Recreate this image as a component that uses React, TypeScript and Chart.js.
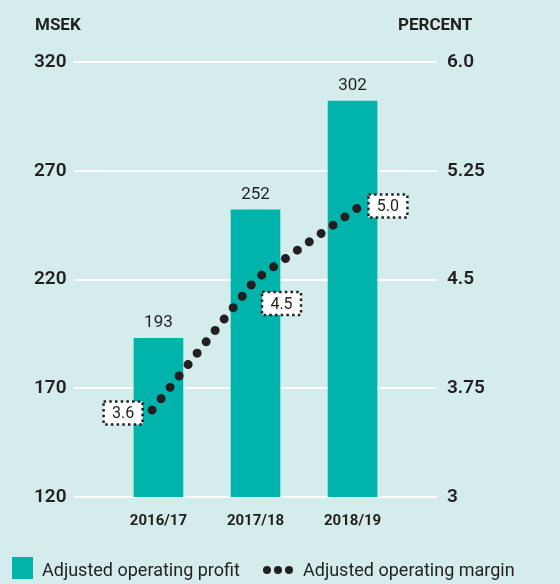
import React, { useEffect, useRef } from "react";
import { Chart, registerables } from "chart.js";

Chart.register(...registerables);

const categories = ["2016/17", "2017/18", "2018/19"];
const profitValues = [193, 252, 302];
const marginValues = [3.6, 4.5, 5.0];
const marginLabels = ["3.6", "4.5", "5.0"];
const leftTicks = [120, 170, 220, 270, 320];
const rightTicks = [3, 3.75, 4.5, 5.25, 6.0];
const rightTickLabels = ["3", "3.75", "4.5", "5.25", "6.0"];

const BG = "#d4ecec";
const BAR = "#00b4ac";
const INK = "#231f20";
const FONT = "Roboto, 'Noto Sans', sans-serif";

// offsets of the dotted value boxes relative to their points
const boxOffsets = [
  { dx: -29, dy: 3 },
  { dx: 26, dy: 24 },
  { dx: 29, dy: -1 },
];

const labelPlugin = {
  id: "customLabels",
  afterDatasetsDraw(chart: any) {
    const ctx = chart.ctx;
    ctx.save();
    const barMeta = chart.getDatasetMeta(0);
    ctx.fillStyle = INK;
    ctx.font = `400 17px ${FONT}`;
    ctx.textAlign = "center";
    ctx.textBaseline = "middle";
    barMeta.data.forEach((el: any, i: number) => {
      ctx.fillText(String(profitValues[i]), el.x, el.y - 15);
    });
    const lineMeta = chart.getDatasetMeta(1);
    lineMeta.data.forEach((pt: any, i: number) => {
      const o = boxOffsets[i];
      const cx = pt.x + o.dx;
      const cy = pt.y + o.dy;
      const w = 39;
      const h = 23;
      ctx.fillStyle = "#ffffff";
      ctx.fillRect(cx - w / 2, cy - h / 2, w, h);
      ctx.setLineDash([2.5, 3.2]);
      ctx.lineWidth = 2.5;
      ctx.strokeStyle = INK;
      ctx.strokeRect(cx - w / 2, cy - h / 2, w, h);
      ctx.setLineDash([]);
      ctx.fillStyle = INK;
      ctx.font = `400 16px ${FONT}`;
      ctx.fillText(marginLabels[i], cx, cy + 1);
    });
    ctx.restore();
  },
};

export default function App() {
  const ref = useRef<HTMLCanvasElement>(null);
  useEffect(() => {
    if (!ref.current) return;
    const chart = new Chart(ref.current, {
      type: "bar",
      data: {
        datasets: [
          {
            type: "bar",
            label: "Adjusted operating profit",
            data: profitValues.map((v, i) => ({ x: i, y: v })),
            backgroundColor: BAR,
            barThickness: 49,
            grouped: false,
            xAxisID: "x",
            yAxisID: "y",
            order: 2,
          } as any,
          {
            type: "line",
            label: "Adjusted operating margin",
            data: marginValues.map((v, i) => ({ x: i, y: v })),
            borderColor: INK,
            borderWidth: 9,
            borderDash: [0.01, 14.5],
            borderCapStyle: "round",
            pointRadius: 0,
            tension: 0,
            xAxisID: "x2",
            yAxisID: "y1",
            order: 1,
          } as any,
        ],
      },
      options: {
        responsive: false,
        animation: false,
        layout: { padding: { left: 34, right: 0, top: 62, bottom: 0 } },
        plugins: { legend: { display: false }, tooltip: { enabled: false } },
        scales: {
          x: {
            type: "linear",
            offset: false,
            min: -0.87,
            max: 2.87,
            grid: { display: false, offset: false },
            border: { display: false },
            afterBuildTicks: (axis: any) => {
              axis.ticks = categories.map((_, i) => ({ value: i }));
            },
            afterFit: (axis: any) => {
              axis.height = 87;
            },
            ticks: {
              padding: 7,
              color: INK,
              font: { family: FONT, size: 15, weight: "bold" },
              callback: (v: any) => categories[v] ?? "",
              maxRotation: 0,
              autoSkip: false,
            },
          },
          x2: {
            type: "linear",
            display: false,
            offset: false,
            min: -0.755,
            max: 2.755,
          },
          y: {
            position: "left",
            min: 120,
            max: 320,
            afterBuildTicks: (axis: any) => {
              axis.ticks = leftTicks.map((v) => ({ value: v }));
            },
            afterFit: (axis: any) => {
              axis.width = 40;
            },
            grid: { color: "#ffffff", lineWidth: 2, drawTicks: false },
            border: { display: false },
            ticks: {
              crossAlign: "far",
              padding: 0,
              color: INK,
              font: { family: FONT, size: 19, weight: 600 },
            },
          },
          y1: {
            position: "right",
            min: 3,
            max: 6,
            afterBuildTicks: (axis: any) => {
              axis.ticks = rightTicks.map((v) => ({ value: v }));
            },
            afterFit: (axis: any) => {
              axis.width = 123;
            },
            grid: { display: false, drawTicks: false },
            border: { display: false },
            ticks: {
              padding: 10,
              color: INK,
              font: { family: FONT, size: 19, weight: 600 },
              callback: (v: any) => {
                const idx = rightTicks.indexOf(v);
                return idx >= 0 ? rightTickLabels[idx] : "";
              },
            },
          },
        },
      },
      plugins: [labelPlugin],
    } as any);
    return () => chart.destroy();
  }, []);

  const titleStyle: React.CSSProperties = {
    position: "absolute",
    top: 14,
    fontFamily: FONT,
    fontWeight: 700,
    fontSize: 17,
    color: INK,
    lineHeight: "20px",
  };
  const legendText: React.CSSProperties = {
    position: "absolute",
    top: 558,
    fontFamily: FONT,
    fontWeight: 400,
    fontSize: 18,
    color: INK,
    lineHeight: "24px",
    whiteSpace: "nowrap",
  };
  const dot: React.CSSProperties = {
    position: "absolute",
    top: 566,
    width: 8,
    height: 8,
    borderRadius: 4,
    background: INK,
  };

  return (
    <div
      style={{
        position: "absolute",
        top: 0,
        left: 0,
        width: 560,
        height: 584,
        background: BG,
        overflow: "hidden",
      }}
    >
      <canvas ref={ref} width={560} height={584} style={{ display: "block" }} />
      <div style={{ ...titleStyle, left: 35 }}>MSEK</div>
      <div style={{ ...titleStyle, left: 398 }}>PERCENT</div>
      <div
        style={{
          position: "absolute",
          left: 12,
          top: 557,
          width: 21,
          height: 22,
          background: BAR,
        }}
      />
      <div style={{ ...legendText, left: 42 }}>Adjusted operating profit</div>
      <div style={{ ...dot, left: 263 }} />
      <div style={{ ...dot, left: 274 }} />
      <div style={{ ...dot, left: 285 }} />
      <div style={{ ...legendText, left: 303 }}>Adjusted operating margin</div>
    </div>
  );
}
